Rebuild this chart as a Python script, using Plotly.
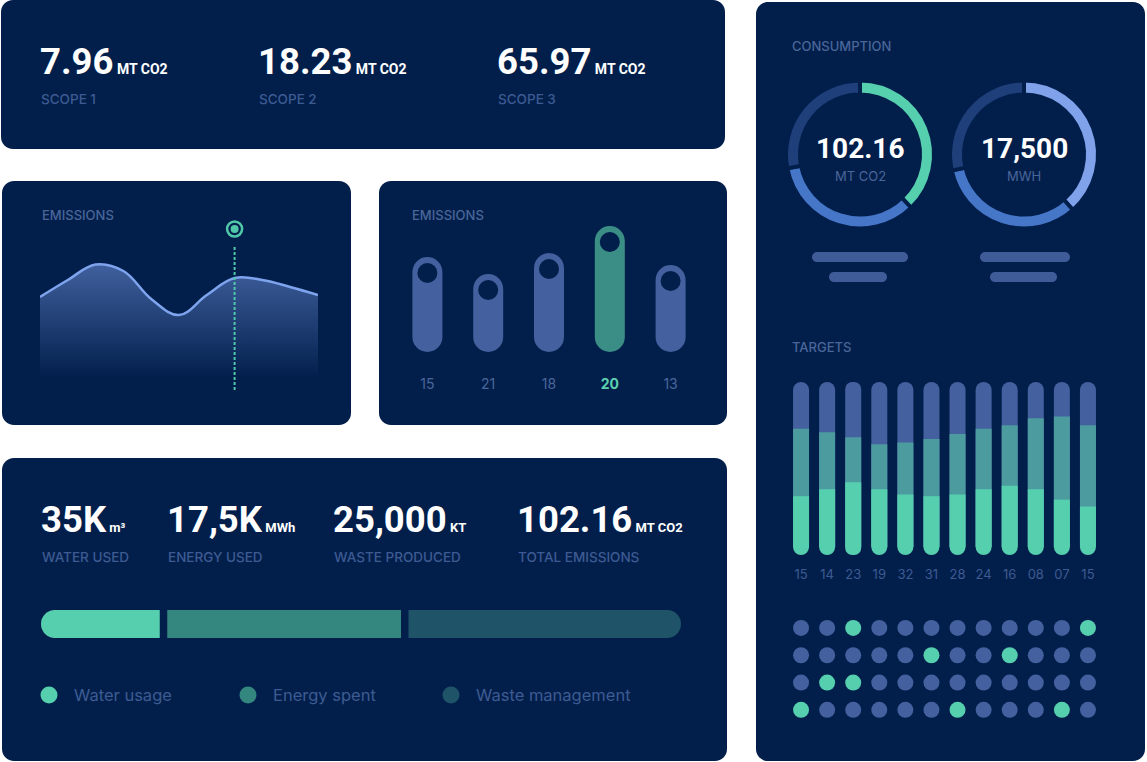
import plotly.graph_objects as go

W, H = 1147, 762
NAVY = "#021F4C"
LABEL = "#3D5B92"
TITLE = "#4A6699"
MINT = "#56CFAE"
TEAL = "#33877F"
DTEAL = "#1F5368"
SLATE = "#44609E"
MIDTEAL = "#4C9B9F"
BLUE = "#4676C8"
DARKBLUE = "#1E3F7A"
LIGHTBLUE = "#7FA2EA"
NUMFONT = "Roboto"
LBLFONT = "Inter"

# ---------------- data ----------------
scope_values = ["7.96", "18.23", "65.97"]
scope_units = ["MT CO2", "MT CO2", "MT CO2"]
scope_labels = ["SCOPE 1", "SCOPE 2", "SCOPE 3"]

emis_x = list(range(11))
emis_y = [93, 110, 125.5, 119, 91, 75, 95, 112, 110, 103, 95]
emis_sel = 7

bar_cats = ["15", "21", "18", "20", "13"]
bar_vals = [95, 78, 99, 126, 87]
bar_sel = 3

kpi_values = ["35K", "17,5K", "25,000", "102.16"]
kpi_units = ["m³", "MWh", "KT", "MT CO2"]
kpi_labels = ["WATER USED", "ENERGY USED", "WASTE PRODUCED", "TOTAL EMISSIONS"]

mix_names = ["Water usage", "Energy spent", "Waste management"]
mix_share = [19.0, 37.4, 43.6]

cons1_vals = [37.8, 34.2, 28.0]
cons2_vals = [38.5, 33.0, 28.5]
cons_totals = ["102.16", "17,500"]
cons_units = ["MT CO2", "MWH"]

target_labels = ["15", "14", "23", "19", "32", "31", "28", "24", "16", "08", "07", "15"]
target_total = [100] * 12
target_mid = [73, 71, 68, 64, 65, 67, 70, 73, 75, 79, 80, 75]
target_low = [34, 38, 42, 38, 35, 34, 35, 38, 40, 38, 32, 28]

grid_status = [
    [0, 0, 1, 0, 0, 0, 0, 0, 0, 0, 0, 1],
    [0, 0, 0, 0, 0, 1, 0, 0, 1, 0, 0, 0],
    [0, 1, 1, 0, 0, 0, 0, 0, 0, 0, 0, 0],
    [1, 0, 0, 0, 0, 0, 1, 0, 0, 0, 1, 0],
]


# ---------------- helpers ----------------
def fx(px):
    return px / W


def fy(py):
    return 1 - py / H


def rrect(x0, y0, x1, y1, r):
    k = 0.5523 * r
    pts = [
        ("M", [(x0 + r, y0)]),
        ("L", [(x1 - r, y0)]),
        ("C", [(x1 - r + k, y0), (x1, y0 + r - k), (x1, y0 + r)]),
        ("L", [(x1, y1 - r)]),
        ("C", [(x1, y1 - r + k), (x1 - r + k, y1), (x1 - r, y1)]),
        ("L", [(x0 + r, y1)]),
        ("C", [(x0 + r - k, y1), (x0, y1 - r + k), (x0, y1 - r)]),
        ("L", [(x0, y0 + r)]),
        ("C", [(x0, y0 + r - k), (x0 + r - k, y0), (x0 + r, y0)]),
    ]
    s = ""
    for cmd, ps in pts:
        s += cmd + " " + " ".join(f"{fx(a):.6f},{fy(b):.6f}" for a, b in ps) + " "
    return s + "Z"


def panel(x0, y0, x1, y1, r=12, color=NAVY, layer="below"):
    return dict(type="path", path=rrect(x0, y0, x1, y1, r), xref="paper", yref="paper",
                fillcolor=color, line=dict(width=0), layer=layer)


annotations = []


def ann(text, x, y, size, color, family=LBLFONT, weight=500, xanchor="left"):
    annotations.append(dict(text=text, x=fx(x), y=fy(y), xref="paper", yref="paper",
                            xanchor=xanchor, yanchor="middle", showarrow=False,
                            font=dict(family=family, size=size, color=color, weight=weight)))


def pill(x, heights, color, xa, ya, width, r, cap=True):
    """Pill whose bottom sits at axis value -r and whose height (from that bottom) is `heights`.
    Both halves are plain bars (no base) so only their tips get rounded."""
    common = dict(x=x, width=width, xaxis=xa, yaxis=ya, hoverinfo="skip", showlegend=False)
    out = [go.Bar(y=[h - r for h in heights],
                  marker=dict(color=color, cornerradius="50%", line=dict(width=0)), **common)]
    if cap:
        out.append(go.Bar(y=[-r] * len(heights),
                          marker=dict(color=color, cornerradius="50%", line=dict(width=0)), **common))
    return out


fig = go.Figure()

# ---------------- area chart ----------------
fig.add_trace(go.Scatter(
    x=emis_x, y=emis_y, mode="lines", line=dict(color="#7FA4EE", width=2.5, shape="spline", smoothing=1.1),
    fill="tozeroy",
    fillgradient=dict(type="vertical", start=0, stop=max(emis_y),
                      colorscale=[[0, NAVY], [0.1, NAVY], [1, "#40609E"]]),
    xaxis="x", yaxis="y", hoverinfo="skip", showlegend=False))
fig.add_trace(go.Scatter(x=[emis_x[emis_sel]] * 2, y=[0, 145], mode="lines",
                         line=dict(color="#4FC9A8", width=2, dash="3px,2px"),
                         xaxis="x", yaxis="y", hoverinfo="skip", showlegend=False))
fig.add_trace(go.Scatter(x=[emis_x[emis_sel]], y=[161], mode="markers",
                         marker=dict(symbol="circle-open", size=15, color="#4FC9A8", line=dict(width=2.5, color="#4FC9A8")),
                         xaxis="x", yaxis="y", hoverinfo="skip", showlegend=False, cliponaxis=False))
fig.add_trace(go.Scatter(x=[emis_x[emis_sel]], y=[161], mode="markers",
                         marker=dict(symbol="circle", size=8, color="#4FC9A8"),
                         xaxis="x", yaxis="y", hoverinfo="skip", showlegend=False, cliponaxis=False))

# ---------------- emission pills (1 unit = 1 px, zero at pill bottom + radius) ----------------
R2 = 15
bx = list(range(len(bar_cats)))
bcolors = ["#3B8E85" if i == bar_sel else SLATE for i in bx]
for t in pill(bx, bar_vals, bcolors, "x2", "y2", 30 / 60.8, R2):
    fig.add_trace(t)
fig.add_trace(go.Scatter(x=bx, y=[v - R2 - 16 for v in bar_vals], mode="markers",
                         marker=dict(size=20, color=NAVY), xaxis="x2", yaxis="y2",
                         hoverinfo="skip", showlegend=False))
fig.add_trace(go.Scatter(
    x=bx, y=[-48] * len(bx), mode="text",
    text=[f"<b>{c}</b>" if i == bar_sel else c for i, c in enumerate(bar_cats)],
    textfont=dict(family=LBLFONT, size=14, color=["#5CD0AE" if i == bar_sel else TITLE for i in bx]),
    xaxis="x2", yaxis="y2", hoverinfo="skip", showlegend=False, cliponaxis=False))

# ---------------- stacked horizontal bar ----------------
gap = 1.2
mix_colors = [MINT, TEAL, DTEAL]
mix_total = sum(mix_share) + 2 * gap
# x3: zero at right end of water segment; x7: zero at left end of waste segment
fig.add_trace(go.Bar(y=[0], x=[-mix_share[0]], orientation="h", width=1,
                     marker=dict(color=mix_colors[0], cornerradius="50%", line=dict(width=0)),
                     xaxis="x3", yaxis="y3", hoverinfo="skip", showlegend=False))
fig.add_trace(go.Bar(y=[0], x=[mix_share[1]], base=[gap], orientation="h", width=1,
                     marker=dict(color=mix_colors[1], line=dict(width=0)),
                     xaxis="x3", yaxis="y3", hoverinfo="skip", showlegend=False))
fig.add_trace(go.Bar(y=[0], x=[mix_share[2]], orientation="h", width=1,
                     marker=dict(color=mix_colors[2], cornerradius="50%", line=dict(width=0)),
                     xaxis="x7", yaxis="y3", hoverinfo="skip", showlegend=False))
off7 = mix_share[0] + mix_share[1] + 2 * gap

# legend dots (pixel-mapped axis)
legend_x = [49, 248, 451]
fig.add_trace(go.Scatter(x=legend_x, y=[695] * 3, mode="markers",
                         marker=dict(size=17, color=mix_colors), xaxis="x4", yaxis="y4",
                         hoverinfo="skip", showlegend=False))
for lx, name in zip(legend_x, mix_names):
    ann(name, lx + 23, 695, 16.5, LABEL, weight=400)

# ---------------- donuts ----------------
fig.add_trace(go.Pie(values=cons1_vals, hole=0.811, sort=False, direction="clockwise", rotation=0,
                     marker=dict(colors=[MINT, BLUE, DARKBLUE], line=dict(color=NAVY, width=4)),
                     textinfo="none", hoverinfo="skip", showlegend=False,
                     domain=dict(x=[fx(786), fx(934)], y=[fy(228.5), fy(80.5)])))
fig.add_trace(go.Pie(values=cons2_vals, hole=0.811, sort=False, direction="clockwise", rotation=0,
                     marker=dict(colors=[LIGHTBLUE, BLUE, DARKBLUE], line=dict(color=NAVY, width=4)),
                     textinfo="none", hoverinfo="skip", showlegend=False,
                     domain=dict(x=[fx(950), fx(1098)], y=[fy(228.5), fy(80.5)])))

# ---------------- targets ----------------
K = 1.73          # px per unit
R5 = 8 / K        # pill radius in units
tx = list(range(len(target_labels)))
tw = 16 / (313 / 12)
fig.add_trace(pill(tx, target_total, SLATE, "x5", "y5", tw, R5, cap=False)[0])
fig.add_trace(pill(tx, target_mid, MIDTEAL, "x5", "y5", tw, R5, cap=False)[0])
for t in pill(tx, target_low, MINT, "x5", "y5", tw, R5, cap=True):
    fig.add_trace(t)
Y0 = 555 - 8  # pixel of value 0
fig.add_trace(go.Scatter(x=tx, y=[(Y0 - 576) / K] * len(tx), mode="text", text=target_labels,
                         textfont=dict(family=LBLFONT, size=13, color=LABEL),
                         xaxis="x5", yaxis="y5", hoverinfo="skip", showlegend=False, cliponaxis=False))

# ---------------- dot grid ----------------
gx, gy, gc = [], [], []
for r, row in enumerate(grid_status):
    for c, s in enumerate(row):
        gx.append(c)
        gy.append(r)
        gc.append(MINT if s else SLATE)
fig.add_trace(go.Scatter(x=gx, y=gy, mode="markers", marker=dict(size=16, color=gc),
                         xaxis="x5", yaxis="y6", hoverinfo="skip", showlegend=False))

# ---------------- text ----------------
for i, (v, u, l) in enumerate(zip(scope_values, scope_units, scope_labels)):
    x0 = [40, 258, 497][i]
    ann(f"{v}<span style='font-size:14px'> {u}</span>", x0 - 2, 61, 36.5, "white", NUMFONT, 700)
    ann(l, x0 - 1, 99, 13.5, LABEL)

ann("EMISSIONS", 40, 215, 13, TITLE)
ann("EMISSIONS", 410, 215, 13, TITLE)

kx = [41, 167, 333, 517]
for v, u, l, x0 in zip(kpi_values, kpi_units, kpi_labels, kx):
    ann(f"{v}<span style='font-size:13px'> {u}</span>", x0 - 2, 519, 36.5, "white", NUMFONT, 700)
    ann(l, x0 - 1, 557, 13.5, LABEL)

ann("CONSUMPTION", 790, 46, 13, TITLE)
ann("TARGETS", 790, 347, 13, TITLE)
for cx, tval, unit in zip([860, 1024], cons_totals, cons_units):
    ann(tval, cx, 149, 28, "white", NUMFONT, 700, xanchor="center")
    ann(unit, cx, 176, 13, TITLE, weight=400, xanchor="center")

# ---------------- shapes ----------------
shapes = [
    dict(type="rect", xref="paper", yref="paper", x0=0, y0=0, x1=1, y1=1, fillcolor="white",
         line=dict(width=0), layer="below"),
    panel(1, 0, 725, 149),
    panel(2, 181, 351, 425),
    panel(379, 181, 727, 425),
    panel(2, 458, 727, 761),
    panel(756, 2, 1145, 761),
]
for (a, b, c, d) in [(812, 252, 908, 262), (829, 272, 887, 282), (980, 252, 1070, 262), (990, 272, 1057, 282)]:
    shapes.append(panel(a, b, c, d, r=5, color="#3F5C99", layer="above"))

hid = dict(visible=False, fixedrange=True, showgrid=False, zeroline=False)
fig.update_layout(
    width=W, height=H, margin=dict(l=0, r=0, t=0, b=0),
    paper_bgcolor="white", plot_bgcolor="rgba(0,0,0,0)",
    barmode="overlay", hovermode=False, showlegend=False,
    shapes=shapes, annotations=annotations,
    xaxis=dict(domain=[fx(40), fx(318)], range=[0, 10], anchor="y", **hid),
    yaxis=dict(domain=[fy(390), fy(215)], range=[0, 175], anchor="x", **hid),
    xaxis2=dict(domain=[fx(397), fx(701)], range=[-0.5, 4.5], anchor="y2", **hid),
    yaxis2=dict(domain=[fy(400), fy(220)], range=[337 - 400, 337 - 220], anchor="x2", **hid),
    xaxis3=dict(domain=[fx(41), fx(681)], range=[-mix_share[0], mix_total - mix_share[0]], anchor="y3", **hid),
    xaxis7=dict(domain=[fx(41), fx(681)], range=[-off7, mix_total - off7], anchor="y3", overlaying="x3", **hid),
    yaxis3=dict(domain=[fy(638), fy(610)], range=[-0.5, 0.5], anchor="x3", **hid),
    xaxis4=dict(domain=[0, 1], range=[0, W], anchor="y4", **hid),
    yaxis4=dict(domain=[0, 1], range=[H, 0], anchor="x4", **hid),
    xaxis5=dict(domain=[fx(788), fx(1101)], range=[-0.5, 11.5], anchor="y5", **hid),
    yaxis5=dict(domain=[fy(590), fy(375)], range=[(Y0 - 590) / K, (Y0 - 375) / K], anchor="x5", **hid),
    yaxis6=dict(domain=[fy(723.5), fy(614.3)], range=[3.5, -0.5], anchor="x5", **hid),
)

fig.write_html("out.html", config=dict(displayModeBar=False))
